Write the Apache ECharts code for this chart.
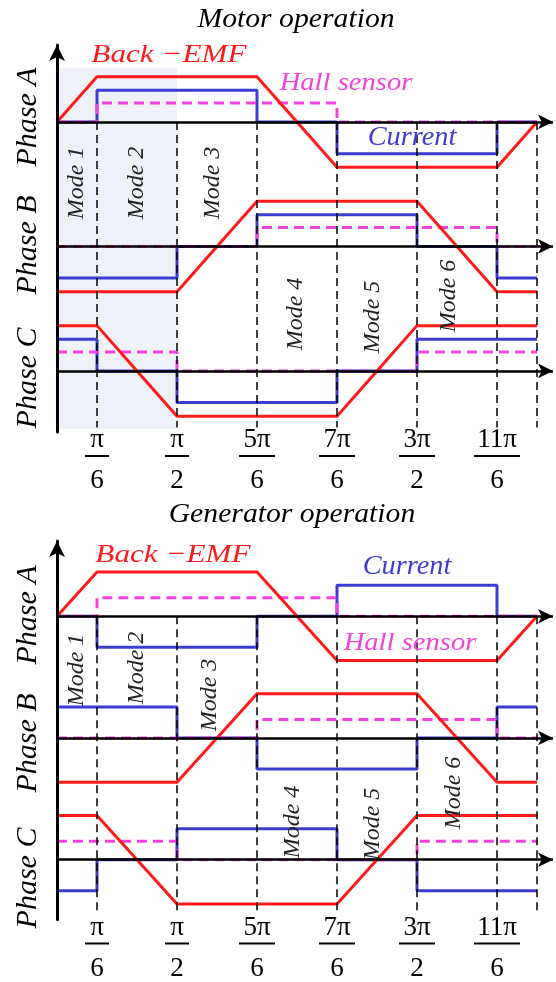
<!DOCTYPE html>
<html>
<head>
<meta charset="utf-8">
<script src="https://cdn.jsdelivr.net/npm/echarts@6/dist/echarts.min.js"></script>
<style>
  html, body { margin: 0; padding: 0; background: #fff; }
  #chart { width: 556px; height: 982px; }
</style>
</head>
<body>
<div id="chart"></div>
<script>
// x is the rotor angle in steps of pi/6
const angleSteps = [0, 1, 2, 3, 4, 5, 6, 7, 8, 9, 10, 11, 12]
const tickSteps = [1, 3, 5, 7, 9, 11]
const tickNum = ['π', 'π', '5π', '7π', '3π', '11π']
const tickDen = ['6', '2', '6', '6', '2', '6']
const tickBar = ['bs', 'bs', 'bm', 'bm', 'bm', 'bl']
const dashSteps = [1, 3, 5, 7, 9, 11, 12]

// back-EMF at every step (trapezoid corners)
const emfA = [0, 1, 1, 1, 1, 1, 0, -1, -1, -1, -1, -1, 0]
const emfB = [-1, -1, -1, -1, 0, 1, 1, 1, 1, 1, 0, -1, -1]
const emfC = [1, 1, 0, -1, -1, -1, -1, -1, 0, 1, 1, 1, 1]

// hall sensor and current: one level per 30 degree sector
const hallA = [0, 1, 1, 1, 1, 1, 1, 0, 0, 0, 0, 0]
const hallB = [0, 0, 0, 0, 0, 1, 1, 1, 1, 1, 1, 0]
const hallC = [1, 1, 1, 0, 0, 0, 0, 0, 0, 1, 1, 1]

const motorCurA = [0, 1, 1, 1, 1, 0, 0, -1, -1, -1, -1, 0]
const motorCurB = [-1, -1, -1, 0, 0, 1, 1, 1, 1, 0, 0, -1]
const motorCurC = [1, 0, 0, -1, -1, -1, -1, 0, 0, 1, 1, 1]
const genCurA = [0, -1, -1, -1, -1, 0, 0, 1, 1, 1, 1, 0]
const genCurB = [1, 1, 1, 0, 0, -1, -1, -1, -1, 0, 0, 1]
const genCurC = [-1, 0, 0, 1, 1, 1, 1, 0, 0, -1, -1, -1]

const phaseBase = [0, -2.75, -5.5]
const EMF_AMP = 1, CUR_AMP = 0.7, HALL_AMP = 0.42
const Y_MIN = -6.85, Y_MAX = 1.7, X_MAX = 12.4

const RED = '#ff1a1a', BLUE = '#3c3cd0', MAG = '#f541dc'
const SERIF = '"Liberation Serif", "Times New Roman", serif'

const panels = [
  { top: 45, cur: [motorCurA, motorCurB, motorCurC], shade: true },
  { top: 541, cur: [genCurA, genCurB, genCurC], shade: false }
]
const emfs = [emfA, emfB, emfC]
const halls = [hallA, hallB, hallC]

function stepData(levels, base, amp) {
  const pts = levels.map((v, i) => [angleSteps[i], base + v * amp])
  pts.push([angleSteps[levels.length], base + levels[levels.length - 1] * amp])
  return pts
}

const grids = [], xAxes = [], yAxes = [], series = []

panels.forEach((p, pi) => {
  grids.push({ left: 57, width: 496, top: p.top, height: 387 })
  xAxes.push({
    type: 'value', gridIndex: pi, min: 0, max: X_MAX, interval: 1,
    axisLine: { show: false }, axisTick: { show: false }, splitLine: { show: false },
    axisLabel: {
      margin: -6, showMaxLabel: false, showMinLabel: false,
      formatter: v => {
        const k = tickSteps.indexOf(v)
        if (k < 0) return ''
        return `{n|${tickNum[k]}}\n{${tickBar[k]}| }\n{d|${tickDen[k]}}`
      },
      rich: {
        n: { fontFamily: SERIF, fontSize: 27, lineHeight: 28, color: '#000' },
        d: { fontFamily: SERIF, fontSize: 27, lineHeight: 46, color: '#000' },
        bs: { width: 24, height: 2, lineHeight: 4, fontSize: 2, backgroundColor: '#000' },
        bm: { width: 36, height: 2, lineHeight: 4, fontSize: 2, backgroundColor: '#000' },
        bl: { width: 46, height: 2, lineHeight: 4, fontSize: 2, backgroundColor: '#000' }
      }
    }
  })
  yAxes.push({
    type: 'value', gridIndex: pi, min: Y_MIN, max: Y_MAX, z: 10,
    axisLine: { show: true, symbol: ['none', 'arrow'], symbolSize: [12, 16], lineStyle: { color: '#000', width: 3 } },
    axisTick: { show: false }, axisLabel: { show: false }, splitLine: { show: false }
  })

  // phase baselines with arrows and shaded modes 1-2
  series.push({
    type: 'line', xAxisIndex: pi, yAxisIndex: pi, data: [], silent: true,
    markArea: p.shade ? {
      silent: true, itemStyle: { color: '#eef1f8' },
      data: [[{ coord: [0, 1.19] }, { coord: [3, -6.78] }]]
    } : undefined,
    markLine: {
      silent: true, symbol: ['none', 'arrow'], symbolSize: [11, 15],
      label: { show: false },
      lineStyle: { color: '#000', width: 2.5, type: 'solid' },
      data: phaseBase.map(b => ({ yAxis: b }))
    }
  })
  // dashed mode boundaries
  series.push({
    type: 'line', xAxisIndex: pi, yAxisIndex: pi, data: [], silent: true,
    markLine: {
      silent: true, symbol: 'none', label: { show: false },
      lineStyle: { color: '#000', width: 1.5, type: [8, 5] },
      data: dashSteps.map(s => [{ coord: [s, 0] }, { coord: [s, Y_MIN + 0.1] }])
    }
  })
  p.cur.forEach((c, k) => series.push({
    type: 'line', xAxisIndex: pi, yAxisIndex: pi, step: 'end', symbol: 'none',
    lineStyle: { color: BLUE, width: 3 }, data: stepData(c, phaseBase[k], CUR_AMP)
  }))
  halls.forEach((h, k) => series.push({
    type: 'line', xAxisIndex: pi, yAxisIndex: pi, step: 'end', symbol: 'none',
    lineStyle: { color: MAG, width: 3, type: [10, 6] }, data: stepData(h, phaseBase[k], HALL_AMP)
  }))
  emfs.forEach((e, k) => series.push({
    type: 'line', xAxisIndex: pi, yAxisIndex: pi, symbol: 'none',
    lineStyle: { color: RED, width: 3 },
    data: e.map((v, i) => [angleSteps[i], phaseBase[k] + v * EMF_AMP])
  }))
})

function txt(text, x, y, size, color, opts = {}) {
  return {
    type: 'text', x, y, z: 100, rotation: opts.rot || 0,
    scaleX: opts.sx || 1,
    style: {
      text, fill: color, textAlign: 'center', textVerticalAlign: 'middle',
      font: `italic ${size}px ${SERIF}`
    }
  }
}
const UP = Math.PI / 2
const graphic = [
  txt('Motor operation', 296, 20, 27, '#000', { sx: 1.1 }),
  txt('Back \u2212EMF', 169, 55, 26, RED, { sx: 1.2 }),
  txt('Hall sensor', 346, 83, 26, MAG, { sx: 1.1 }),
  txt('Current', 412, 138, 27, BLUE, { sx: 1.05 }),
  txt('Phase A', 28, 117, 30, '#000', { rot: UP }),
  txt('Phase B', 28, 245, 30, '#000', { rot: UP }),
  txt('Phase C', 28, 378, 30, '#000', { rot: UP }),
  txt('Mode 1', 77, 183, 24, '#222', { rot: UP }),
  txt('Mode 2', 137, 183, 24, '#222', { rot: UP }),
  txt('Mode 3', 213, 183, 24, '#222', { rot: UP }),
  txt('Mode 4', 296, 314, 24, '#222', { rot: UP }),
  txt('Mode 5', 373, 317, 24, '#222', { rot: UP }),
  txt('Mode 6', 449, 296, 24, '#222', { rot: UP }),

  txt('Generator operation', 292, 515, 27, '#000', { sx: 1.1 }),
  txt('Back \u2212EMF', 173, 555, 26, RED, { sx: 1.2 }),
  txt('Current', 407, 567, 27, BLUE, { sx: 1.05 }),
  txt('Hall sensor', 410, 643, 26, MAG, { sx: 1.1 }),
  txt('Phase A', 28, 615, 30, '#000', { rot: UP }),
  txt('Phase B', 28, 743, 30, '#000', { rot: UP }),
  txt('Phase C', 28, 878, 30, '#000', { rot: UP }),
  txt('Mode 1', 77, 670, 24, '#222', { rot: UP }),
  txt('Mode 2', 137, 668, 24, '#222', { rot: UP }),
  txt('Mode 3', 210, 695, 24, '#222', { rot: UP }),
  txt('Mode 4', 293, 822, 24, '#222', { rot: UP }),
  txt('Mode 5', 373, 824, 24, '#222', { rot: UP }),
  txt('Mode 6', 454, 793, 24, '#222', { rot: UP })
]

const chart = echarts.init(document.getElementById('chart'), null, { renderer: 'canvas' })
chart.setOption({
  animation: false,
  backgroundColor: '#fff',
  grid: grids, xAxis: xAxes, yAxis: yAxes,
  series, graphic
})
</script>
</body>
</html>
